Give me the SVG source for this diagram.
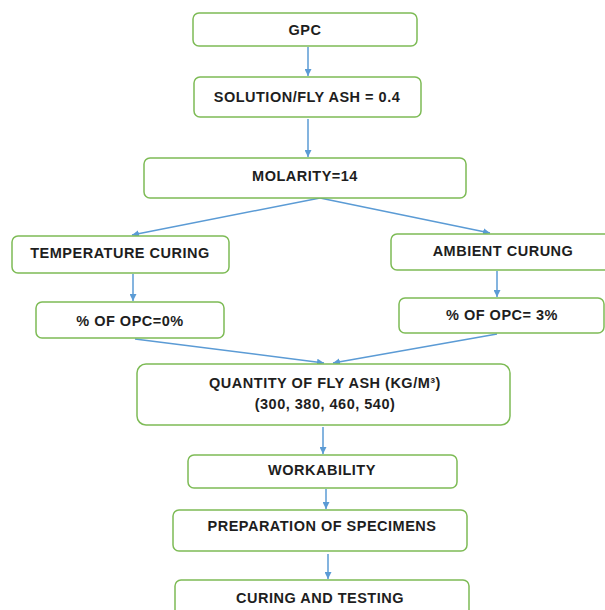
<svg xmlns="http://www.w3.org/2000/svg" width="605" height="610" viewBox="0 0 605 610">
<style>
.box{fill:#fff;stroke:#7dbb55;stroke-width:1.5}
.t{font-family:"Liberation Sans",Arial,sans-serif;font-weight:bold;font-size:14.5px;letter-spacing:0.5px;fill:#1e1e1e;text-anchor:middle;dominant-baseline:central}
.c{stroke:#5b9bd5;stroke-width:1.5;fill:none}
</style>
<defs>
<marker id="ah" viewBox="0 0 10 10" refX="10" refY="5" markerWidth="7" markerHeight="7" orient="auto" markerUnits="userSpaceOnUse">
<path d="M0,0 L10,5 L0,10 z" fill="#5b9bd5"/>
</marker>
</defs>
<rect width="605" height="610" fill="#fff"/>
<g id="connectors">
<line class="c" x1="308" y1="47" x2="308" y2="76" marker-end="url(#ah)"/>
<line class="c" x1="308" y1="119" x2="308" y2="157" marker-end="url(#ah)"/>
<line class="c" x1="320" y1="198" x2="132" y2="235" marker-end="url(#ah)"/>
<line class="c" x1="320" y1="198" x2="490" y2="233" marker-end="url(#ah)"/>
<line class="c" x1="133" y1="274" x2="133" y2="301" marker-end="url(#ah)"/>
<line class="c" x1="497" y1="271" x2="497" y2="297" marker-end="url(#ah)"/>
<line class="c" x1="135" y1="339" x2="324" y2="363" marker-end="url(#ah)"/>
<line class="c" x1="497" y1="334" x2="333" y2="363" marker-end="url(#ah)"/>
<line class="c" x1="323" y1="427" x2="323" y2="454" marker-end="url(#ah)"/>
<line class="c" x1="326" y1="489" x2="326" y2="509" marker-end="url(#ah)"/>
<line class="c" x1="328" y1="554" x2="328" y2="579" marker-end="url(#ah)"/>
</g>
<g id="gpc"><rect class="box" x="193" y="13" width="224" height="33" rx="6"/><text class="t" x="305" y="30">GPC</text></g>
<g id="solution"><rect class="box" x="194" y="77" width="227" height="40" rx="6"/><text class="t" x="307" y="97">SOLUTION/FLY ASH = 0.4</text></g>
<g id="molarity"><rect class="box" x="144" y="158" width="322" height="40" rx="6"/><text class="t" x="305" y="176">MOLARITY=14</text></g>
<g id="temperature"><rect class="box" x="12" y="236" width="217" height="37" rx="6"/><text class="t" x="120" y="253">TEMPERATURE CURING</text></g>
<g id="ambient"><rect class="box" x="391" y="234" width="220" height="36" rx="6"/><text class="t" x="503" y="251">AMBIENT CURUNG</text></g>
<g id="opc0"><rect class="box" x="36" y="302" width="188" height="36" rx="6"/><text class="t" x="130" y="321">% OF OPC=0%</text></g>
<g id="opc3"><rect class="box" x="399" y="298" width="205" height="35" rx="6"/><text class="t" x="502" y="315">% OF OPC= 3%</text></g>
<g id="quantity"><rect class="box" x="137" y="364" width="373" height="61" rx="9"/><text class="t" x="325" y="383">QUANTITY OF FLY ASH (KG/M³)</text><text class="t" x="325" y="404">(300, 380, 460, 540)</text></g>
<g id="workability"><rect class="box" x="188" y="455" width="269" height="33" rx="6"/><text class="t" x="322" y="470">WORKABILITY</text></g>
<g id="preparation"><rect class="box" x="173" y="510" width="294" height="41" rx="6"/><text class="t" x="322" y="526">PREPARATION OF SPECIMENS</text></g>
<g id="curing"><rect class="box" x="175" y="580" width="294" height="40" rx="6"/><text class="t" x="320" y="598">CURING AND TESTING</text></g>
</svg>
